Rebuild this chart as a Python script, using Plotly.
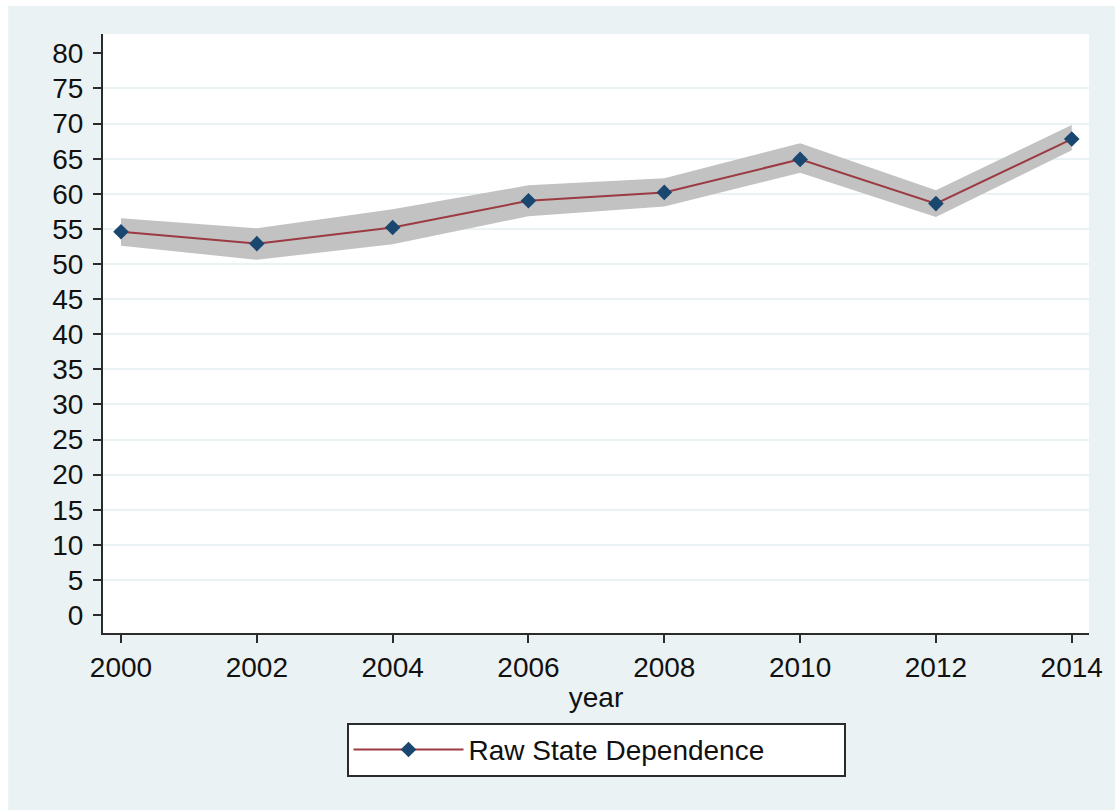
import plotly.graph_objects as go

# Raw state dependence by survey year, with its confidence band
years = [2000, 2002, 2004, 2006, 2008, 2010, 2012, 2014]
estimate = [54.6, 52.9, 55.2, 59.0, 60.2, 64.9, 58.6, 67.8]
band_upper = [56.5, 55.1, 57.8, 61.2, 62.2, 67.2, 60.5, 69.8]
band_lower = [52.6, 50.6, 52.8, 56.8, 58.2, 63.0, 56.7, 66.2]

y_ticks = list(range(0, 81, 5))
y_grid = list(range(5, 76, 5))
x_ticks = list(range(2000, 2015, 2))

BG = "#EAF2F3"
AXIS = "#2b2b2b"
FONT = "Liberation Sans, Arial, sans-serif"

fig = go.Figure()

fig.add_trace(go.Scatter(
    x=years, y=band_lower, mode="lines", line=dict(width=0),
    hoverinfo="skip", showlegend=False,
))
fig.add_trace(go.Scatter(
    x=years, y=band_upper, mode="lines", line=dict(width=0),
    fill="tonexty", fillcolor="#C2C2C2",
    hoverinfo="skip", showlegend=False,
))
fig.add_trace(go.Scatter(
    x=years, y=estimate, mode="lines+markers",
    name="Raw State Dependence",
    line=dict(color="#9C3A42", width=2),
    marker=dict(symbol="diamond", size=12, color="#1A476F"),
))

fig.update_layout(
    width=1115, height=810,
    margin=dict(l=103, r=24, t=34, b=177),
    paper_bgcolor=BG,
    plot_bgcolor="white",
    font=dict(family=FONT, size=28, color="#111111"),
    showlegend=True,
    legend=dict(
        orientation="h",
        x=0.5, xanchor="center", y=-0.150, yanchor="top",
        bgcolor="white", bordercolor=AXIS, borderwidth=2,
        itemwidth=110, entrywidth=370, entrywidthmode="pixels",
        font=dict(size=28),
    ),
    xaxis=dict(
        range=[1999.735, 2014.254],
        tickvals=x_ticks,
        showgrid=False, zeroline=False,
        showline=True, linecolor=AXIS, linewidth=2,
        ticks="outside", ticklen=8, tickwidth=2, tickcolor=AXIS,
        title=dict(text="year", standoff=6, font=dict(size=28)),
    ),
    yaxis=dict(
        range=[-2.56, 82.76],
        tickvals=y_ticks,
        showgrid=False, zeroline=False,
        showline=True, linecolor=AXIS, linewidth=2,
        ticks="outside", ticklen=8, tickwidth=2, tickcolor=AXIS,
        ticklabelstandoff=4,
    ),
    # interior gridlines only (none at the 0 and 80 ticks)
    yaxis2=dict(
        overlaying="y", matches="y", side="left",
        tickvals=y_grid, showticklabels=False, ticks="",
        showgrid=True, gridcolor=BG, gridwidth=1.5,
        zeroline=False, showline=False,
    ),
)

# thin white strip along the top and left edges of the page
fig.add_shape(type="rect", xref="paper", yref="paper",
              x0=-0.11, x1=-0.0962, y0=-0.31, y1=1.07,
              fillcolor="white", line=dict(width=0), layer="below")
fig.add_shape(type="rect", xref="paper", yref="paper",
              x0=-0.11, x1=1.04, y0=1.0467, y1=1.07,
              fillcolor="white", line=dict(width=0), layer="below")

# dummy trace so the overlay axis is drawn
fig.add_trace(go.Scatter(x=[years[0]], y=[estimate[0]], yaxis="y2",
                         mode="markers", marker=dict(opacity=0),
                         hoverinfo="skip", showlegend=False))

fig.write_html("out.html")
